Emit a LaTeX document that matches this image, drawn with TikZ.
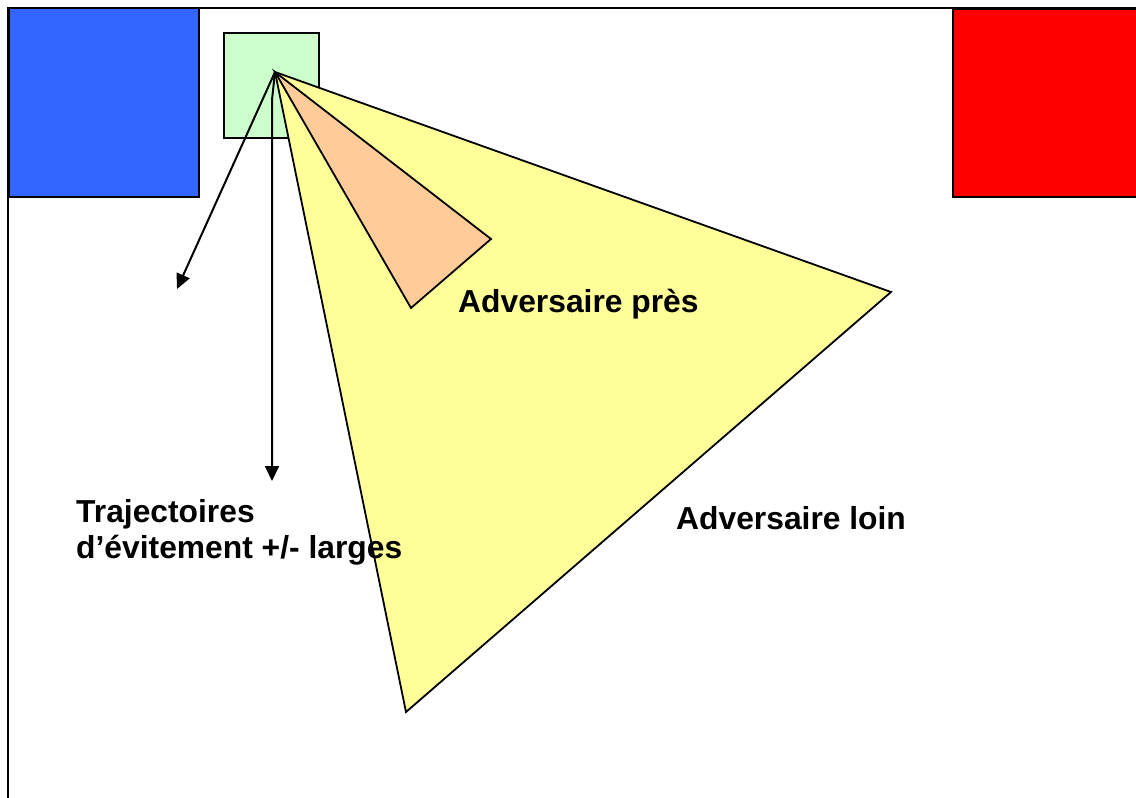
\documentclass[tikz,border=0pt]{standalone}
\usepackage{fontspec}
\setmainfont{Liberation Sans}
\usetikzlibrary{arrows.meta}
\definecolor{myblue}{HTML}{3366FF}
\definecolor{mygreen}{HTML}{CCFFCC}
\definecolor{myred}{HTML}{FF0000}
\definecolor{myyellow}{HTML}{FFFF99}
\definecolor{myorange}{HTML}{FFCC99}
\tikzset{
  box/.style={draw=black, line width=2pt},
  zone/.style={draw=black, line width=1.8pt, line join=miter},
  traj/.style={draw=black, line width=2pt, -{Triangle[length=15pt,width=14pt]}},
  lbl/.style={font=\fontsize{31.8}{36}\selectfont\bfseries, anchor=base west, inner sep=0pt, align=left},
  frame/.style={draw=black, line width=2pt}
}
\begin{document}
\begin{tikzpicture}[x=1pt,y=-1pt]
\useasboundingbox (0,0) rectangle (1136,798);
% field frame
\draw[frame] (8,800) -- (8,8) -- (1140,8);
% start zones
\node[box, fill=myblue, minimum width=190pt, minimum height=189pt, inner sep=0pt, anchor=north west] (blue) at (8,7) {};
\node[box, fill=myred, minimum width=190pt, minimum height=188pt, inner sep=0pt, anchor=north west] (red) at (952,8) {};
% robot
\node[box, line width=1.5pt, fill=mygreen, minimum width=95pt, minimum height=105pt, inner sep=0pt, anchor=north west] (robot) at (223,32) {};
\coordinate (apex) at (275,72);
% detection zones
\coordinate (farA) at (891,292);
\coordinate (farB) at (406,712);
\coordinate (nearA) at (491,239);
\coordinate (nearB) at (411,308);
\filldraw[zone, fill=myyellow] (apex) -- (farA) -- (farB) -- cycle;
\filldraw[zone, fill=myorange] (apex) -- (nearA) -- (nearB) -- cycle;
% avoidance trajectories
\coordinate (leftend) at (177,289);
\coordinate (downend) at (272,481);
\draw[traj] (apex) -- (leftend);
\draw[traj] (apex) -- (272,100) -- (downend);
% labels
\node[lbl] (near) at (458,312) {Adversaire près};
\node[lbl] (far) at (676,529) {Adversaire loin};
\node[lbl] (traj1) at (76,522) {Trajectoires};
\node[lbl] (traj2) at (76,558) {d’évitement +/- larges};
\end{tikzpicture}
\end{document}
